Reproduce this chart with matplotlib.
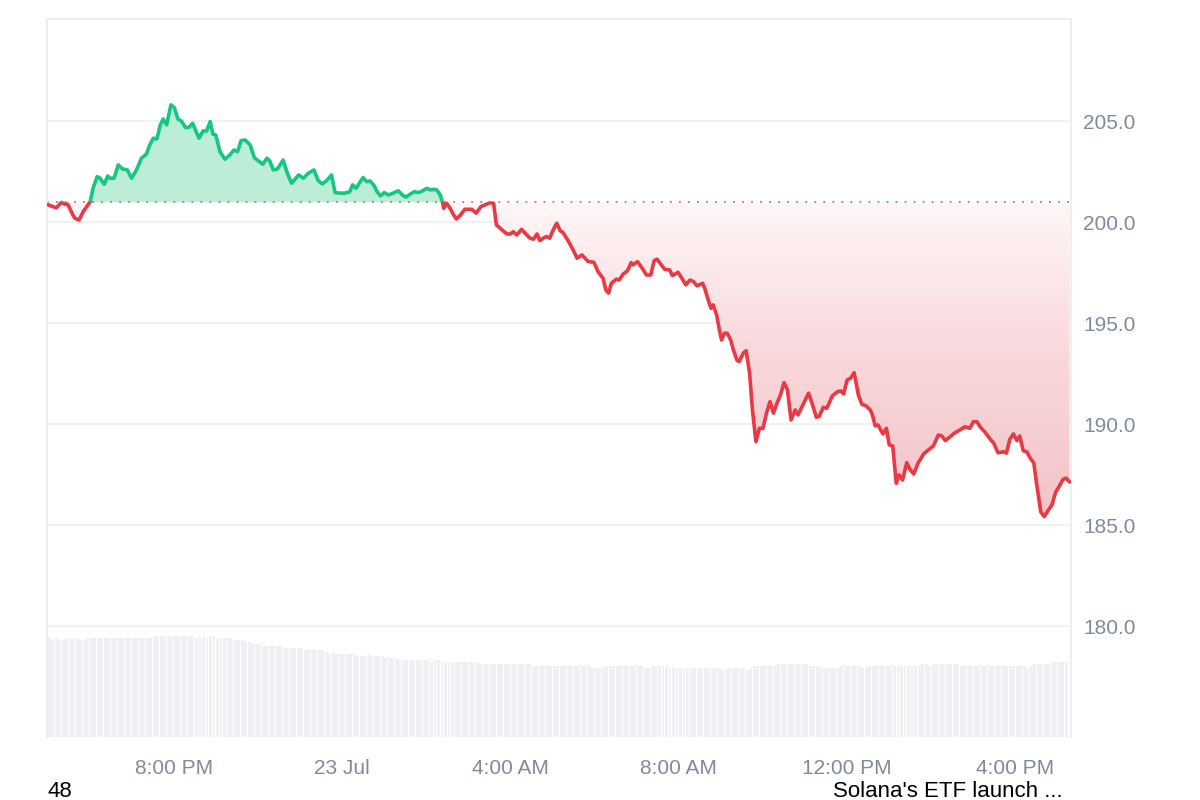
"""
SOL price, last 24h (line + rolling volume bars)
"""
import numpy as np
import pandas as pd
import matplotlib
matplotlib.use('Agg')
import matplotlib.pyplot as plt
import matplotlib.dates as mdates
from matplotlib.colors import LinearSegmentedColormap
from matplotlib.patches import Rectangle
from matplotlib.path import Path

plt.rcParams['font.family'] = ['Liberation Sans', 'DejaVu Sans']

START = pd.Timestamp('2025-07-22 17:00')
OPEN_PRICE = 201.0

# minutes after START, price in USD
minutes = [
    1, 8, 13, 20, 25, 29, 35, 39, 45, 51, 56, 61, 65, 71, 75, 81, 86, 89, 95, 101,
    107, 114, 120, 127, 134, 141, 146, 151, 156, 161, 165, 170, 176, 181, 186, 191, 197, 202, 207, 213,
    216, 222, 227, 232, 236, 240, 246, 253, 260, 266, 271, 276, 282, 289, 295, 301, 307, 313, 317, 322,
    328, 336, 342, 348, 354, 358, 365, 372, 380, 386, 392, 398, 405, 410, 417, 424, 431, 435, 440, 446,
    450, 455, 460, 465, 470, 475, 480, 486, 493, 500, 506, 511, 517, 523, 529, 535, 541, 546, 551, 555,
    560, 563, 565, 569, 574, 579, 583, 589, 595, 605, 611, 618, 624, 631, 636, 640, 648, 655, 660, 664,
    669, 676, 682, 688, 693, 698, 702, 709, 712, 716, 721, 726, 731, 735, 743, 750, 755, 762, 771, 779,
    785, 792, 796, 800, 804, 811, 815, 821, 827, 832, 835, 841, 847, 854, 860, 865, 869, 874, 880, 887,
    891, 899, 906, 910, 916, 921, 926, 934, 937, 942, 946, 949, 954, 958, 961, 965, 969, 974, 978, 983,
    986, 992, 996, 1001, 1005, 1010, 1015, 1020, 1025, 1030, 1035, 1040, 1045, 1050, 1055, 1060, 1066, 1070, 1078, 1085,
    1090, 1096, 1100, 1106, 1111, 1119, 1126, 1131, 1135, 1140, 1145, 1150, 1156, 1161, 1167, 1173, 1176, 1180, 1184, 1191,
    1196, 1200, 1205, 1210, 1214, 1219, 1225, 1230, 1235, 1241, 1249, 1256, 1263, 1270, 1275, 1280, 1287, 1294, 1301, 1308,
    1315, 1320, 1325, 1330, 1336, 1344, 1349, 1355, 1363, 1367, 1372, 1377, 1382, 1386, 1391, 1396, 1402, 1406, 1411, 1416,
    1421, 1427, 1432, 1437, 1442, 1448, 1452, 1457,
]
prices = [
    200.87, 200.78, 200.73, 201.00, 200.90, 200.90, 200.46, 200.21, 200.12, 200.53,
    200.78, 201.03, 201.69, 202.27, 202.19, 201.89, 202.30, 202.19, 202.19, 202.85,
    202.65, 202.60, 202.19, 202.60, 203.18, 203.38, 203.84, 204.17, 204.13, 204.83,
    205.12, 204.83, 205.82, 205.68, 205.12, 205.02, 204.69, 204.71, 204.91, 204.42,
    204.17, 204.53, 204.53, 204.99, 204.37, 204.33, 203.50, 203.13, 203.34, 203.59,
    203.50, 204.05, 204.08, 203.84, 203.21, 203.04, 202.88, 203.18, 203.04, 202.60,
    202.65, 203.09, 202.44, 201.94, 202.19, 202.35, 202.19, 202.44, 202.60, 202.07,
    201.91, 202.07, 202.35, 201.48, 201.45, 201.45, 201.52, 201.86, 201.69, 202.02,
    202.22, 202.02, 202.05, 201.86, 201.52, 201.31, 201.48, 201.36, 201.45, 201.57,
    201.36, 201.25, 201.40, 201.52, 201.48, 201.57, 201.69, 201.61, 201.64, 201.61,
    201.36, 201.03, 200.70, 200.95, 200.70, 200.37, 200.17, 200.37, 200.65, 200.65,
    200.46, 200.78, 200.87, 200.98, 200.95, 199.88, 199.63, 199.43, 199.43, 199.54,
    199.38, 199.66, 199.43, 199.22, 199.17, 199.43, 199.10, 199.27, 199.30, 199.22,
    199.63, 199.96, 199.59, 199.50, 199.05, 198.60, 198.23, 198.39, 198.06, 198.03,
    197.56, 197.24, 196.66, 196.50, 196.99, 197.19, 197.15, 197.45, 197.61, 198.01,
    197.90, 198.06, 197.78, 197.40, 197.40, 198.11, 198.18, 197.95, 197.68, 197.65,
    197.37, 197.53, 197.15, 196.91, 197.15, 197.07, 196.86, 196.99, 196.74, 196.16,
    195.75, 195.92, 195.42, 194.66, 194.18, 194.52, 194.52, 194.18, 193.68, 193.18,
    193.11, 193.53, 193.65, 192.54, 190.72, 189.15, 189.81, 189.81, 190.56, 191.13,
    190.56, 191.05, 191.46, 192.07, 191.71, 190.22, 190.72, 190.47, 191.05, 191.55,
    191.05, 190.36, 190.39, 190.85, 190.80, 191.41, 191.62, 191.66, 191.51, 192.20,
    192.29, 192.56, 191.46, 191.00, 190.92, 190.72, 190.47, 189.93, 189.98, 189.53,
    189.81, 188.99, 188.94, 187.09, 187.50, 187.25, 188.11, 187.75, 187.55, 188.08,
    188.54, 188.74, 188.94, 189.48, 189.43, 189.20, 189.40, 189.60, 189.73, 189.89,
    189.81, 190.14, 190.14, 189.86, 189.64, 189.27, 189.07, 188.60, 188.65, 188.58,
    189.27, 189.53, 189.20, 189.43, 188.70, 188.65, 188.28, 188.11, 186.84, 185.68,
    185.44, 185.77, 186.02, 186.63, 186.92, 187.29, 187.34, 187.17,
]

# 5-minute volume bars, stored as (level, number of consecutive bars)
vol_levels = [9.9, 9.7, 9.9, 9.7, 9.9, 9.7, 9.9, 10.1, 9.9, 10.1, 9.9, 10.1, 9.9, 9.7, 9.5,
              9.3, 9.1, 8.9, 8.7, 8.5, 8.3, 8.5, 8.3, 8.1, 8.3, 8.1, 7.9, 7.7, 7.5, 7.7,
              7.5, 7.3, 7.1, 6.9, 7.1, 6.9, 7.1, 6.9, 6.7, 6.9, 6.7, 6.9, 7.1, 7.3, 7.1,
              6.9, 7.1, 6.9, 7.1, 7.3, 7.1, 7.3, 7.1, 6.9, 7.1, 7.3, 7.5]
vol_counts = [1, 1, 1, 2, 4, 2, 19, 12, 1, 2, 1, 2, 5, 3, 2,
              3, 6, 6, 6, 1, 1, 1, 6, 3, 1, 4, 4, 9, 1, 2,
              11, 15, 17, 4, 11, 2, 5, 15, 1, 6, 1, 1, 7, 9, 3,
              6, 6, 2, 15, 2, 1, 8, 19, 1, 1, 5, 5]

y_ticks = [180, 185, 190, 195, 200, 205]
tick_hours = [3, 7, 11, 15, 19, 23]
tick_labels = ['8:00 PM', '23 Jul', '4:00 AM', '8:00 AM', '12:00 PM', '4:00 PM']
footer_left = '48'
footer_right = "Solana's ETF launch ..."

GREEN = '#16c784'
RED = '#ea3943'
GREY_TXT = '#808a9d'
GRID = '#eff1f3'


def main():
    fig = plt.figure(figsize=(12, 8), dpi=100)
    rect = [47.4 / 1200, 63 / 800, 1023.3 / 1200, 718 / 800]

    # volume underneath
    ax_vol = fig.add_axes(rect)
    vol = np.repeat(vol_levels, vol_counts)
    vol_t = pd.date_range(START, periods=len(vol), freq='5min') + pd.Timedelta(minutes=2.5)
    ax_vol.bar(mdates.date2num(vol_t), vol, width=4.2 / 1440, color='#eef0f3', lw=0)
    ax_vol.set_ylim(0, 71.8)
    ax_vol.axis('off')

    ax = fig.add_axes(rect, sharex=ax_vol)
    ax.set_facecolor('none')

    t = mdates.date2num(START + pd.to_timedelta(minutes, unit='min'))
    p = np.array(prices)
    x0 = mdates.date2num(START)
    x1 = mdates.date2num(START + pd.Timedelta(minutes=1458.7))

    # green area above open, red gradient below
    ax.fill_between(t, p, OPEN_PRICE, where=p >= OPEN_PRICE, interpolate=True,
                    color='#bbedd7', lw=0, zorder=1)
    coll = ax.fill_between(t, p, OPEN_PRICE, where=p <= OPEN_PRICE, interpolate=True,
                           facecolor='none', lw=0)
    clip = Path.make_compound_path(*coll.get_paths())
    cmap = LinearSegmentedColormap.from_list('redfade', ['#f4c3c8', '#f8d7da', '#fef6f7'])
    grad = np.linspace(0, 1, 256).reshape(-1, 1)
    im = ax.imshow(grad, extent=[x0, x1, p.min(), OPEN_PRICE], origin='lower',
                   aspect='auto', cmap=cmap, zorder=1)
    im.set_clip_path(clip, ax.transData)

    ax.axhline(OPEN_PRICE, color='#8c8c8c', lw=1.3, linestyle=(0, (1, 4)), zorder=2)

    up, = ax.plot(t, p, color=GREEN, lw=2.6, solid_joinstyle='round', zorder=3)
    dn, = ax.plot(t, p, color=RED, lw=2.6, solid_joinstyle='round', zorder=3)
    up.set_clip_path(Rectangle((x0, OPEN_PRICE), x1 - x0, 100, transform=ax.transData))
    dn.set_clip_path(Rectangle((x0, OPEN_PRICE - 100), x1 - x0, 100, transform=ax.transData))

    ax.set_xlim(x0, x1)
    ax.set_ylim(174.53, 210.07)

    ax.set_yticks(y_ticks)
    ax.set_yticklabels([f'{v:.1f}' for v in y_ticks])
    ax.yaxis.tick_right()
    ax.yaxis.grid(True, color=GRID, lw=1.5)
    ax.set_axisbelow(True)
    ax.tick_params(axis='y', length=0, pad=9, labelsize=15, labelcolor=GREY_TXT)

    ticks = [mdates.date2num(START.normalize() + pd.Timedelta(hours=17 + h)) for h in tick_hours]
    ax.set_xticks(ticks)
    ax.set_xticklabels(tick_labels)
    ax.tick_params(axis='x', length=0, pad=16, labelsize=15, labelcolor=GREY_TXT)

    ax.spines['bottom'].set_visible(False)
    for s in ['left', 'top', 'right']:
        ax.spines[s].set_color('#eceef1')
        ax.spines[s].set_linewidth(1.5)

    fig.text(48 / 1200, 0.004, footer_left, fontsize=16, color='black', va='baseline')
    fig.text(833 / 1200, 0.004, footer_right, fontsize=16, color='black', va='baseline')

    fig.savefig('out.png', dpi=100)
    plt.close(fig)


if __name__ == '__main__':
    main()
